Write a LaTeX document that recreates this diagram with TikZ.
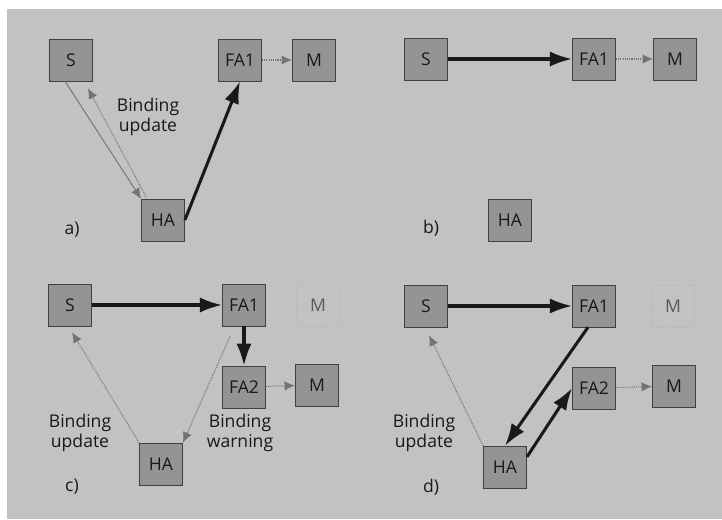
\documentclass[tikz,border=0pt]{standalone}
\usepackage{fontspec}
\setsansfont{Open Sans}
\usetikzlibrary{calc}
\usetikzlibrary{positioning}
\usetikzlibrary{arrows.meta}
\tikzstyle{agent} = [draw=black!75, fill=black!42, minimum width=1.3cm, minimum height=1.26cm, inner sep=0, text=black!90]
\tikzstyle{ghost} = [draw=black!28, densely dotted, minimum width=1.3cm, minimum height=1.26cm, inner sep=0, text=black!65]
\tikzstyle{lbl} = [align=center, text=black!90]
\tikzstyle{fwd} = [line width=2.6pt, black!90, -{Latex[length=19pt,width=13pt]}]
\tikzstyle{sig} = [line width=0.8pt, black!55, -{Latex[length=9pt,width=8pt]}]
\tikzstyle{dsig} = [line width=0.9pt, black!55, densely dotted, -{Latex[length=9pt,width=8pt]}]

\begin{document}
\begin{tikzpicture}[x=0.03cm, y=-0.03cm, font=\sffamily\fontsize{15}{17}\selectfont]
    \useasboundingbox (0,0) rectangle (722,519);
    \fill[white] (0,0) rectangle (722,519);
    \fill[black!24] (7,9) rectangle (722,519);

    % a)
    \node[agent] (aS) at (71,60) {S};
    \node[agent] (aFA1) at ($(aS)+(169,0)$) {FA1};
    \node[agent] (aM) at ($(aFA1)+(74,0)$) {M};
    \node[agent] (aHA) at (163,220) {HA};
    \node[lbl] (aupd) at (148,117) {Binding\\update};
    \node[lbl] (alab) at (72,230) {a)};
    \draw[sig] ($(aS.south)+(-6,0)$) -- (aHA.north west);
    \draw[dsig] ($(aHA.north west)+(5,-2)$) -- ($(aS.south east)+(-5,7)$);
    \draw[fwd] (aHA.east) -- (aFA1.south);
    \draw[dsig] (aFA1) -- (aM);

    % b)
    \node[agent] (bS) at (426,59) {S};
    \node[agent] (bFA1) at ($(bS)+(168,0)$) {FA1};
    \node[agent] (bM) at ($(bFA1)+(81,0)$) {M};
    \node[agent] (bHA) at (510,220) {HA};
    \node[lbl] (blab) at (431,228) {b)};
    \draw[fwd] (bS) -- (bFA1);
    \draw[dsig] (bFA1) -- (bM);

    % c)
    \node[agent] (cS) at (70,305) {S};
    \node[agent] (cFA1) at ($(cS)+(174,0)$) {FA1};
    \node[ghost] (cMold) at ($(cFA1)+(74,0)$) {M};
    \node[agent] (cFA2) at ($(cFA1)+(0,82)$) {FA2};
    \node[agent] (cM) at ($(cFA2)+(73,-2)$) {M};
    \node[agent] (cHA) at (161,464) {HA};
    \node[lbl] (cupd) at (80,433) {Binding\\update};
    \node[lbl] (cwarn) at (240,433) {Binding\\warning};
    \node[lbl] (clab) at (72,487) {c)};
    \draw[fwd] (cS) -- (cFA1);
    \draw[fwd] (cFA1) -- (cFA2);
    \draw[dsig] (cFA2) -- (cM);
    \draw[dsig] (cHA.north west) -- ($(cS.south)+(2,6)$);
    \draw[dsig] ($(cFA1.south west)+(8,10)$) -- (cHA.north east);

    % d)
    \node[agent] (dS) at (426,306) {S};
    \node[agent] (dFA1) at ($(dS)+(168,0)$) {FA1};
    \node[ghost] (dMold) at ($(dFA1)+(79,0)$) {M};
    \node[agent] (dFA2) at ($(dFA1)+(0,82)$) {FA2};
    \node[agent] (dM) at ($(dFA2)+(80,-2)$) {M};
    \node[agent] (dHA) at (505,467) {HA};
    \node[lbl] (dupd) at (424,433) {Binding\\update};
    \node[lbl] (dlab) at (431,487) {d)};
    \draw[fwd] (dS) -- (dFA1);
    \draw[fwd] ($(dFA1.south)+(-6,0)$) -- (dHA.north);
    \draw[fwd] ($(dHA.east)+(0,-10)$) -- (dFA2.west);
    \draw[dsig] (dFA2) -- (dM);
    \draw[dsig] (dHA.north west) -- ($(dS.south)+(3,8)$);
\end{tikzpicture}
\end{document}
